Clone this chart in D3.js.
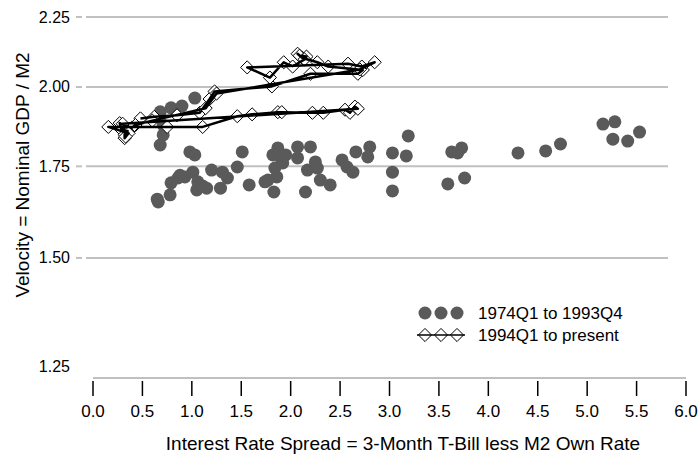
<!DOCTYPE html>
<html>
<head>
<meta charset="utf-8">
<script src="https://cdn.jsdelivr.net/npm/d3@7"></script>
<style>
  body { margin: 0; background: #fff; }
  text { font-family: "Liberation Sans", Arial, sans-serif; fill: #000; }
</style>
</head>
<body>
<svg id="svg1" width="699" height="459"></svg>
<script>
// 1974Q1 - 1993Q4 : spread, velocity
var oldSpread = [0.65, 0.66, 0.78, 0.79, 0.86, 0.88, 0.93, 1.01, 1.06, 1.05, 1.11, 1.15, 1.20, 1.29, 1.31, 1.36, 1.46, 1.51,
  0.98, 1.03, 0.68, 0.71, 0.71, 0.68, 0.79, 0.90, 1.03,
  1.58, 1.74, 1.77, 1.83, 1.82, 1.87, 1.91, 1.92, 1.84, 1.86, 1.95, 2.07, 2.07, 2.20, 2.17, 2.25, 2.27, 2.15, 2.30, 2.40,
  2.52, 2.57, 2.63, 2.66, 2.80, 2.78, 3.03, 3.03, 3.03, 3.19, 3.17, 3.63, 3.73, 3.69, 3.59, 3.76,
  4.30, 4.58, 4.73, 5.16, 5.28, 5.26, 5.41, 5.53];
var oldVelocity = [1.656, 1.648, 1.668, 1.702, 1.716, 1.724, 1.719, 1.733, 1.705, 1.682, 1.693, 1.687, 1.739, 1.687, 1.733, 1.716, 1.748, 1.793,
  1.793, 1.784, 1.814, 1.845, 1.876, 1.918, 1.931, 1.937, 1.963,
  1.696, 1.705, 1.710, 1.676, 1.784, 1.805, 1.769, 1.760, 1.745, 1.719, 1.784, 1.808, 1.775, 1.808, 1.739, 1.763, 1.745, 1.676, 1.710, 1.696,
  1.769, 1.748, 1.733, 1.793, 1.808, 1.778, 1.790, 1.733, 1.679, 1.842, 1.781, 1.793, 1.805, 1.790, 1.699, 1.716,
  1.790, 1.796, 1.817, 1.879, 1.886, 1.832, 1.826, 1.854];

// 1994Q1 to present, in time order
var newSpread = [0.48, 0.62, 0.85, 1.08, 1.18, 1.23, 1.81, 2.20, 2.68, 2.73, 2.38, 2.27,
  2.12, 2.07, 2.09, 2.16, 2.14, 2.02, 1.93, 1.79, 1.56, 2.58, 2.72, 2.85,
  2.70, 1.25, 1.14, 0.60, 0.43, 0.39, 0.27, 0.29, 0.35, 0.32, 0.32, 0.36, 0.155,
  0.75, 1.11, 1.46, 1.61, 1.87, 1.91, 2.22, 2.33, 2.55, 2.60, 2.65, 2.68,
  0.30, 0.33];
var newVelocity = [1.897, 1.902, 1.907, 1.915, 1.960, 1.985, 2.002, 2.045, 2.045, 2.058, 2.070, 2.085,
  2.100, 2.115, 2.108, 2.105, 2.095, 2.070, 2.085, 2.032, 2.067, 2.080, 2.070, 2.085,
  2.060, 1.978, 1.930, 1.890, 1.876, 1.867, 1.882, 1.860, 1.857, 1.846, 1.835, 1.850, 1.870,
  1.870, 1.870, 1.904, 1.910, 1.917, 1.917, 1.915, 1.915, 1.925, 1.915, 1.935, 1.928,
  1.880, 1.840];

var xTicks = [0.0, 0.5, 1.0, 1.5, 2.0, 2.5, 3.0, 3.5, 4.0, 4.5, 5.0, 5.5, 6.0];
var yGrid = [1.50, 1.75, 2.00, 2.25];
var yLabels = [1.25, 1.50, 1.75, 2.00, 2.25];
var legendNames = ["1974Q1 to 1993Q4", "1994Q1 to present"];

var oldData = oldSpread.map(function (d, i) { return { x: d, y: oldVelocity[i] }; });
var newData = newSpread.map(function (d, i) { return { x: d, y: newVelocity[i] }; });

var svg = d3.select("#svg1");

// scales - velocity on a log axis
var x = d3.scaleLinear().domain([0, 6]).range([93, 686]);
var y = d3.scaleLog().domain([1.2256, 2.25]).range([378, 17]);

// grid lines + little tick dash on the left
svg.selectAll(".grid")
  .data(yGrid)
  .enter().append("line")
  .attr("x1", 86).attr("x2", 668)
  .attr("y1", function (d) { return y(d); })
  .attr("y2", function (d) { return y(d); })
  .style("stroke", "#c0c0c0").style("stroke-width", 2);

svg.selectAll(".ytick")
  .data(yGrid)
  .enter().append("line")
  .attr("x1", 76).attr("x2", 82)
  .attr("y1", function (d) { return y(d); })
  .attr("y2", function (d) { return y(d); })
  .style("stroke", "#c0c0c0").style("stroke-width", 2);

svg.selectAll(".ylab")
  .data(yLabels)
  .enter().append("text")
  .attr("x", 70)
  .attr("y", function (d) { return y(d) + 5.5; })
  .style("text-anchor", "end")
  .style("font-size", "16px")
  .text(function (d) { return d3.format(".2f")(d); });

// x axis: gray base line, black ticks
svg.append("line")
  .attr("x1", x(0)).attr("x2", x(6))
  .attr("y1", 378).attr("y2", 378)
  .style("stroke", "#c0c0c0").style("stroke-width", 2);

svg.selectAll(".xtick")
  .data(xTicks)
  .enter().append("line")
  .attr("x1", function (d) { return x(d); })
  .attr("x2", function (d) { return x(d); })
  .attr("y1", 381).attr("y2", 396)
  .style("stroke", "#000").style("stroke-width", 1.5);

svg.selectAll(".xlab")
  .data(xTicks)
  .enter().append("text")
  .attr("x", function (d) { return x(d); })
  .attr("y", 417)
  .style("text-anchor", "middle")
  .style("font-size", "17px")
  .text(function (d) { return d3.format(".1f")(d); });

// axis titles
svg.append("text")
  .attr("x", 403).attr("y", 450)
  .style("text-anchor", "middle")
  .style("font-size", "19px")
  .text("Interest Rate Spread = 3-Month T-Bill less M2 Own Rate");

svg.append("text")
  .attr("transform", "translate(29,175) rotate(-90)")
  .style("text-anchor", "middle")
  .style("font-size", "19px")
  .text("Velocity = Nominal GDP / M2");

// old period: gray dots
svg.selectAll(".dot")
  .data(oldData)
  .enter().append("circle")
  .attr("cx", function (d) { return x(d.x); })
  .attr("cy", function (d) { return y(d.y); })
  .attr("r", 6.5)
  .style("fill", "#5a5a5a");

// new period: diamonds, then connecting line on top
var diamond = d3.symbol().type(d3.symbolDiamond2).size(110);

svg.selectAll(".dia")
  .data(newData)
  .enter().append("path")
  .attr("d", diamond)
  .attr("transform", function (d) { return "translate(" + x(d.x) + "," + y(d.y) + ")"; })
  .style("fill", "#fff")
  .style("stroke", "#000")
  .style("stroke-width", 1);

var line = d3.line()
  .x(function (d) { return x(d.x); })
  .y(function (d) { return y(d.y); });

svg.append("path")
  .datum(newData)
  .attr("d", line)
  .style("fill", "none")
  .style("stroke", "#000")
  .style("stroke-width", 2.5)
  .style("stroke-linejoin", "round");

// legend
var lg = svg.append("g").attr("transform", "translate(425,313)");
[0, 16, 32].forEach(function (dx) {
  lg.append("circle").attr("cx", dx).attr("cy", 0).attr("r", 6.5).style("fill", "#5a5a5a");
});
lg.append("line").attr("x1", -8).attr("x2", 40).attr("y1", 22).attr("y2", 22)
  .style("stroke", "#000").style("stroke-width", 1.5);
[0, 16, 32].forEach(function (dx) {
  lg.append("path").attr("d", diamond)
    .attr("transform", "translate(" + dx + ",22)")
    .style("fill", "none").style("stroke", "#000").style("stroke-width", 1);
});
lg.selectAll(".lgt")
  .data(legendNames)
  .enter().append("text")
  .attr("x", 53)
  .attr("y", function (d, i) { return 6 + i * 22; })
  .style("font-size", "17px")
  .text(function (d) { return d; });
</script>
</body>
</html>
